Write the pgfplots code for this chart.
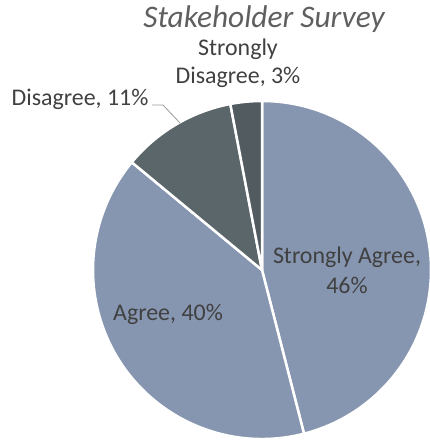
\documentclass[border=0pt]{standalone}
\usepackage{pgfplots}
\pgfplotsset{compat=1.18}
\usepackage{fontspec}
\setmainfont{Carlito}
\definecolor{csa}{HTML}{8796B0}
\definecolor{cag}{HTML}{8796B0}
\definecolor{cdi}{HTML}{5B666A}
\definecolor{csd}{HTML}{525C60}
\definecolor{ctitle}{HTML}{5F5F5F}
\definecolor{clabel}{HTML}{404040}
\begin{document}
\begin{tikzpicture}
\useasboundingbox (0,0) rectangle (430bp,445bp);
\begin{axis}[x=1bp,y=1bp,xmin=0,xmax=430,ymin=0,ymax=445,hide axis,clip=true,at={(0,0)},anchor=south west]
% slices: Strongly Agree 46, Agree 40, Disagree 11, Strongly Disagree 3 (clockwise from top)
\filldraw[fill=csa,draw=white,line width=2.5bp,line join=round] (axis cs:262,175) -- ++(90:169bp) arc[start angle=90,end angle={90-3.6*46},radius=169bp] -- cycle;
\filldraw[fill=cag,draw=white,line width=2.5bp,line join=round] (axis cs:262,175) -- ++({90-3.6*46}:169bp) arc[start angle={90-3.6*46},end angle={90-3.6*86},radius=169bp] -- cycle;
\filldraw[fill=cdi,draw=white,line width=2.5bp,line join=round] (axis cs:262,175) -- ++({90-3.6*86}:169bp) arc[start angle={90-3.6*86},end angle={90-3.6*97},radius=169bp] -- cycle;
\filldraw[fill=csd,draw=white,line width=2.5bp,line join=round] (axis cs:262,175) -- ++({90-3.6*97}:169bp) arc[start angle={90-3.6*97},end angle={90-3.6*100},radius=169bp] -- cycle;
% title
\node[anchor=base,text=ctitle,font=\fontsize{31.5}{36}\selectfont\itshape,inner sep=0pt] at (axis cs:264,417) {Stakeholder Survey};
% labels
\node[anchor=base,text=clabel,font=\fontsize{24}{27}\selectfont,inner sep=0pt] at (axis cs:238,389) {Strongly};
\node[anchor=base,text=clabel,font=\fontsize{24}{27}\selectfont,inner sep=0pt] at (axis cs:238,362) {Disagree, 3\%};
\node[anchor=base,text=clabel,font=\fontsize{24}{27}\selectfont,inner sep=0pt] at (axis cs:80,340) {Disagree, 11\%};
\draw[color=gray!80,line width=0.8bp] (axis cs:152,340) -- (axis cs:163,340) -- (axis cs:180,322);
\node[anchor=base,text=clabel,font=\fontsize{24}{27}\selectfont,inner sep=0pt] at (axis cs:347,182) {Strongly Agree,};
\node[anchor=base,text=clabel,font=\fontsize{24}{27}\selectfont,inner sep=0pt] at (axis cs:347,152) {46\%};
\node[anchor=base,text=clabel,font=\fontsize{24}{27}\selectfont,inner sep=0pt] at (axis cs:168,125) {Agree, 40\%};
\end{axis}
\end{tikzpicture}
\end{document}
